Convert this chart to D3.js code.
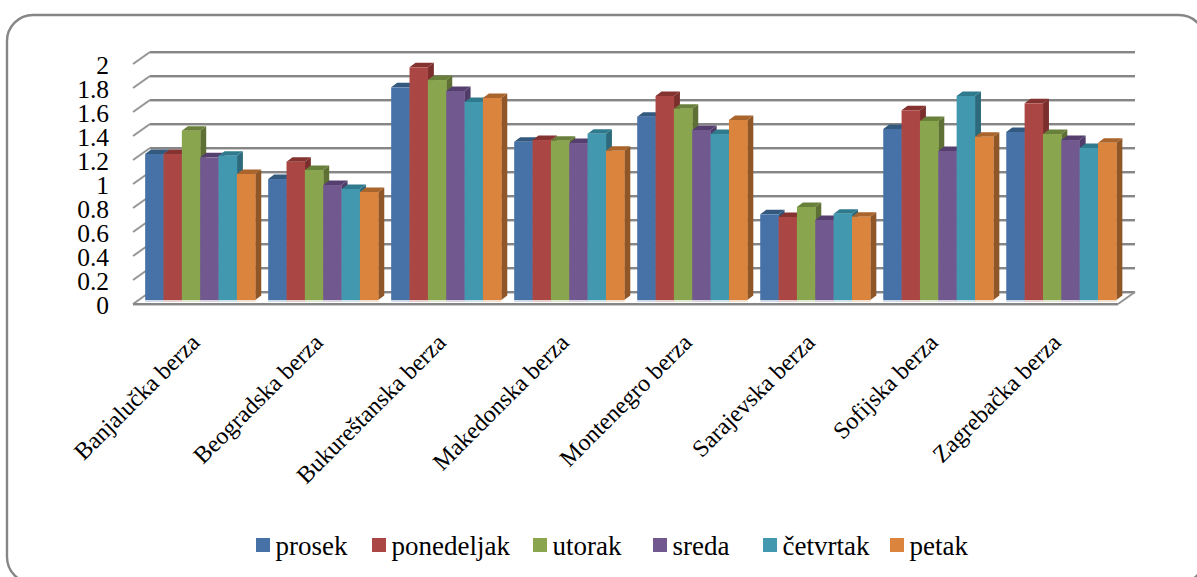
<!DOCTYPE html>
<html>
<head>
<meta charset="utf-8">
<script src="https://cdn.jsdelivr.net/npm/d3@7/dist/d3.min.js"></script>
<style>
html, body { margin: 0; padding: 0; background: #fff; overflow: hidden; }
text { font-family: "Liberation Serif", serif; fill: #000; }
</style>
</head>
<body>
<svg id="chart" width="1197" height="577"></svg>
<script>
const exchanges = ["Banjalučka berza", "Beogradska berza", "Bukureštanska berza", "Makedonska berza", "Montenegro berza", "Sarajevska berza", "Sofijska berza", "Zagrebačka berza"];
const seriesNames = ["prosek", "ponedeljak", "utorak", "sreda", "četvrtak", "petak"];
const prosek = [1.217, 1.008, 1.772, 1.319, 1.528, 0.714, 1.425, 1.400];
const ponedeljak = [1.217, 1.153, 1.939, 1.333, 1.700, 0.692, 1.581, 1.639];
const utorak = [1.411, 1.083, 1.833, 1.328, 1.594, 0.775, 1.492, 1.383];
const sreda = [1.189, 0.958, 1.742, 1.308, 1.417, 0.667, 1.242, 1.333];
const cetvrtak = [1.203, 0.925, 1.650, 1.386, 1.383, 0.719, 1.700, 1.267];
const petak = [1.050, 0.900, 1.683, 1.244, 1.500, 0.694, 1.361, 1.311];
const yTicks = [0, 0.2, 0.4, 0.6, 0.8, 1, 1.2, 1.4, 1.6, 1.8, 2];
const frontColors = ["#4672a8", "#aa4643", "#89a54e", "#71588f", "#4198af", "#db843d"];
const sideColors = ["#2f5379", "#7a2f2d", "#5f7034", "#4f3c68", "#2c6a7c", "#8f5628"];
const topColors = ["#34597f", "#843331", "#69803a", "#543f6e", "#307a8e", "#a9652c"];

const allSeries = [prosek, ponedeljak, utorak, sreda, cetvrtak, petak];
const svg = d3.select("#chart");

// Value scale measured at the front face of the bars; the walls are offset from it.
const y = d3.scaleLinear().domain([0, 2]).range([300, 60]);
const x0 = d3.scaleBand().domain(exchanges).range([145.5 - 6.5, 1116 + 6.5]).paddingInner(0.105).paddingOuter(0.05);
const x1 = d3.scaleBand().domain(seriesNames).range([0, x0.bandwidth()]);

// Rounded chart frame, running off the right and bottom edges of the page
svg.append("rect").attr("x", 7).attr("y", 15).attr("width", 1198).attr("height", 568).attr("rx", 26)
  .attr("fill", "#fff").attr("stroke", "#868686").attr("stroke-width", 2.4);

// Depth of the 3D floor and of each bar
const wallLeftFront = 133, wallLeftBack = 150, wallRightBack = 1135, wallRightFront = 1118;
const backDy = -8, frontDy = 4, barDx = 6, barDy = -4.5;
const grid = svg.append("g").attr("fill", "none");

// Back-wall gridlines with their lighter lower edge, and side-wall diagonals
grid.selectAll(".shadow").data(yTicks).join("line")
  .attr("x1", wallLeftBack).attr("x2", wallRightBack)
  .attr("y1", d => y(d) + backDy + 1.4).attr("y2", d => y(d) + backDy + 1.4)
  .attr("stroke", "#c4c4c4").attr("stroke-width", 1);
grid.selectAll(".major").data(yTicks).join("line")
  .attr("x1", wallLeftBack).attr("x2", wallRightBack)
  .attr("y1", d => y(d) + backDy).attr("y2", d => y(d) + backDy)
  .attr("stroke", "#868686").attr("stroke-width", 2);
grid.selectAll(".side").data(yTicks).join("line")
  .attr("x1", wallLeftFront).attr("x2", wallLeftBack)
  .attr("y1", d => y(d) + frontDy).attr("y2", d => y(d) + backDy)
  .attr("stroke", "#949494").attr("stroke-width", 2);

// Floor edges
grid.append("line").attr("x1", wallLeftFront).attr("x2", wallRightFront)
  .attr("y1", y(0) + frontDy + 1.4).attr("y2", y(0) + frontDy + 1.4).attr("stroke", "#c4c4c4").attr("stroke-width", 1);
grid.append("line").attr("x1", wallLeftFront).attr("x2", wallRightFront)
  .attr("y1", y(0) + frontDy).attr("y2", y(0) + frontDy).attr("stroke", "#868686").attr("stroke-width", 2);
grid.append("line").attr("x1", wallRightFront).attr("x2", wallRightBack)
  .attr("y1", y(0) + frontDy).attr("y2", y(0) + backDy).attr("stroke", "#949494").attr("stroke-width", 2);

// One group per exchange; side faces and caps go first so the front faces cover them
const groups = svg.append("g").selectAll("g").data(exchanges).join("g")
  .attr("transform", d => `translate(${x0(d)},0)`);

groups.each(function (name, gi) {
  const g = d3.select(this);
  const rows = seriesNames.map((s, si) => ({ s, si, v: allSeries[si][gi] }));
  const w = x1.bandwidth();
  rows.forEach(r => {
    const xl = x1(r.s), xr = xl + w, top = y(r.v), base = y(0);
    g.append("path").attr("fill", sideColors[r.si])
      .attr("d", `M${xr},${top}L${xr + barDx},${top + barDy}L${xr + barDx},${base + barDy}L${xr},${base}Z`);
    g.append("path").attr("fill", topColors[r.si])
      .attr("d", `M${xl},${top}L${xl + barDx},${top + barDy}L${xr + barDx},${top + barDy}L${xr},${top}Z`);
  });
  rows.forEach(r => {
    g.append("rect").attr("x", x1(r.s)).attr("width", w + 0.3)
      .attr("y", y(r.v)).attr("height", y(0) - y(r.v)).attr("fill", frontColors[r.si]);
    g.append("rect").attr("x", x1(r.s)).attr("width", w + 0.3)
      .attr("y", y(0)).attr("height", 2).attr("fill", frontColors[r.si]).attr("opacity", 0.25);
  });
});

// Value axis labels
svg.append("g").selectAll("text").data(yTicks).join("text")
  .attr("x", 109).attr("y", d => y(d) + 13.5)
  .attr("text-anchor", "end").attr("font-size", 25.5)
  .text(d => d3.format("~g")(d));

// Category labels, rotated 45 degrees and ending just below their groups
svg.append("g").selectAll("text").data(exchanges).join("text")
  .attr("text-anchor", "end").attr("font-size", 24)
  .attr("transform", d => `translate(${x0(d) + 56},${344}) rotate(-45)`)
  .text(d => d);

// Legend
const legendSwatchX = [256, 372, 533, 653, 763, 890];
const legend = svg.append("g").selectAll("g").data(seriesNames).join("g")
  .attr("transform", (d, i) => `translate(${legendSwatchX[i]},538)`);
legend.append("rect").attr("width", 14).attr("height", 14).attr("fill", (d, i) => frontColors[i]);
legend.append("text").attr("x", 19.5).attr("y", 17).attr("font-size", 27).text(d => d);
</script>
</body>
</html>
